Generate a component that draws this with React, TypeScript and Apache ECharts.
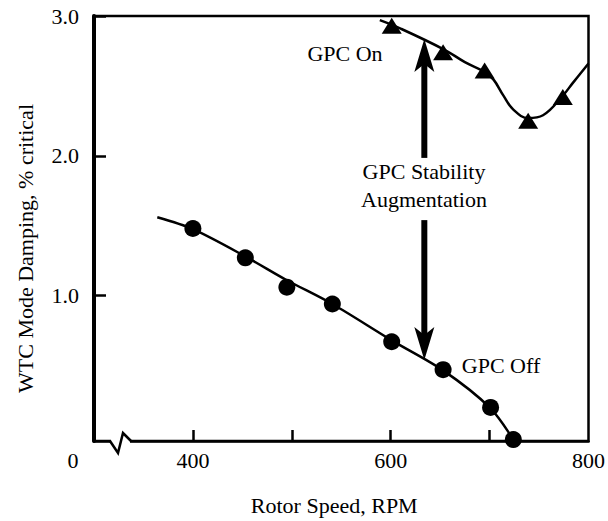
import React, { useEffect, useRef } from 'react';
import * as echarts from 'echarts';

// Axis ticks / labels
const xTickValues = [400, 500, 600, 700];
const xLabelValues = [400, 600, 800];
const yTickValues = [1, 2, 3];
const yLabelValues = [1, 2, 3];

// GPC Off measured points (circles)
const offRpm = [400, 453, 495, 541, 601, 653, 701, 724];
const offDamping = [1.48, 1.27, 1.06, 0.94, 0.67, 0.47, 0.2, -0.03];

// GPC Off faired curve
const offFitRpm = [364, 400, 453, 495, 541, 601, 653, 700, 724];
const offFitDamping = [1.56, 1.475, 1.28, 1.11, 0.94, 0.68, 0.465, 0.2, -0.03];

// GPC On measured points (triangles)
const onRpm = [601, 653, 695, 739, 774];
const onDamping = [2.93, 2.74, 2.61, 2.25, 2.42];

// GPC On faired curve
const onFitRpm = [589, 610, 654, 675, 695, 704, 714, 724, 739, 754, 774, 784, 800];
const onFitDamping = [2.97, 2.91, 2.76, 2.67, 2.6, 2.545, 2.43, 2.33, 2.27, 2.29, 2.43, 2.52, 2.66];

// Stability augmentation arrow (rpm, [shaft start, arrow tip])
const arrowRpm = 634;
const arrowSegments = [
  [1.985, 2.835],
  [1.54, 0.54],
];

const FONT = "'Liberation Serif', 'Times New Roman', serif";

export default function App() {
  const ref = useRef<HTMLDivElement>(null);

  useEffect(() => {
    const chart = echarts.init(ref.current as HTMLDivElement, null, { renderer: 'svg' });
    const txt = (text: string, x: number, y: number, extra: any = {}) => ({
      type: 'text',
      z: 100,
      x,
      y,
      silent: true,
      style: {
        text,
        fontSize: 22,
        fontFamily: FONT,
        fill: '#000',
        align: 'center',
        verticalAlign: 'middle',
        ...extra,
      },
    });

    chart.setOption({
      animation: false,
      backgroundColor: '#fff',
      textStyle: { fontFamily: FONT },
      grid: {
        left: 94,
        right: 16,
        top: 16,
        bottom: 80,
        show: true,
        borderColor: '#000',
        borderWidth: 2.5,
        backgroundColor: 'transparent',
      },
      xAxis: {
        type: 'value',
        min: 300,
        max: 800,
        name: 'Rotor Speed, RPM',
        nameLocation: 'middle',
        nameGap: 53,
        nameTextStyle: { fontSize: 22, color: '#000', fontFamily: FONT, padding: [0, 14, 0, 0] },
        axisLine: { show: true, onZero: false, lineStyle: { color: '#000', width: 2.5 } },
        axisTick: {
          show: true,
          inside: true,
          length: 11,
          customValues: xTickValues,
          lineStyle: { color: '#000', width: 2.5 },
        },
        axisLabel: {
          show: true,
          margin: 8,
          fontSize: 22,
          color: '#000',
          fontFamily: FONT,
          customValues: xLabelValues,
          formatter: (v: number) => String(v),
        },
        splitLine: { show: false },
      },
      yAxis: {
        type: 'value',
        min: -0.04,
        max: 3,
        name: 'WTC Mode Damping, % critical',
        nameLocation: 'middle',
        nameGap: 58,
        nameRotate: 90,
        nameTextStyle: { fontSize: 22, color: '#000', fontFamily: FONT, padding: [0, 40, 0, 0] },
        axisLine: { show: true, onZero: false, lineStyle: { color: '#000', width: 4 } },
        axisTick: {
          show: true,
          inside: true,
          length: 12,
          customValues: yTickValues,
          lineStyle: { color: '#000', width: 2.5 },
        },
        axisLabel: {
          show: true,
          margin: 15,
          fontSize: 22,
          color: '#000',
          fontFamily: FONT,
          customValues: yLabelValues,
          formatter: (v: number) => v.toFixed(1),
        },
        splitLine: { show: false },
      },
      series: [
        {
          type: 'line',
          data: offFitRpm.map((r, i) => [r, offFitDamping[i]]),
          smooth: 0.3,
          symbol: 'none',
          silent: true,
          lineStyle: { color: '#000', width: 2.5 },
          z: 2,
        },
        {
          type: 'line',
          data: onFitRpm.map((r, i) => [r, onFitDamping[i]]),
          smooth: 0.4,
          symbol: 'none',
          silent: true,
          lineStyle: { color: '#000', width: 2.5 },
          z: 2,
        },
        {
          type: 'scatter',
          data: offRpm.map((r, i) => [r, offDamping[i]]),
          symbol: 'circle',
          symbolSize: 17,
          silent: true,
          itemStyle: { color: '#000', opacity: 1, borderWidth: 0 },
          z: 3,
        },
        {
          type: 'scatter',
          data: onRpm.map((r, i) => [r, onDamping[i]]),
          symbol: 'triangle',
          symbolSize: [20, 16],
          silent: true,
          itemStyle: { color: '#000', opacity: 1, borderWidth: 0 },
          z: 3,
        },
      ],
    });

    // Arrow drawn from data coordinates converted through the axes
    const arrowGraphics: any[] = [];
    arrowSegments.forEach(([from, to]) => {
      const p0 = chart.convertToPixel({ gridIndex: 0 }, [arrowRpm, from]) as number[];
      const p1 = chart.convertToPixel({ gridIndex: 0 }, [arrowRpm, to]) as number[];
      const dir = p1[1] < p0[1] ? -1 : 1; // screen direction of the tip
      const headLen = 33;
      const headHalf = 10;
      const notch = 25;
      const x = p1[0];
      const tipY = p1[1];
      arrowGraphics.push({
        type: 'line',
        z: 90,
        silent: true,
        shape: { x1: p0[0], y1: p0[1], x2: x, y2: tipY - dir * (notch - 2) },
        style: { stroke: '#000', lineWidth: 6 },
      });
      arrowGraphics.push({
        type: 'polygon',
        z: 91,
        silent: true,
        shape: {
          points: [
            [x, tipY],
            [x + headHalf, tipY - dir * headLen],
            [x, tipY - dir * notch],
            [x - headHalf, tipY - dir * headLen],
          ],
        },
        style: { fill: '#000' },
      });
    });

    chart.setOption({
      graphic: [
        { type: 'rect', z: 100, silent: true, shape: { x: 111, y: 438, width: 19, height: 6 }, style: { fill: '#fff' } },
        {
          type: 'polyline',
          z: 101,
          silent: true,
          shape: { points: [[110, 441], [118, 453], [123, 433], [131, 441]] },
          style: { stroke: '#000', lineWidth: 2.5, fill: null },
        },
        ...arrowGraphics,
        txt('0', 73, 460),
        txt('GPC On', 345, 53),
        txt('GPC Stability\nAugmentation', 424, 185, { lineHeight: 28 }),
        txt('GPC Off', 501, 365),
      ],
    });

    return () => chart.dispose();
  }, []);

  return (
    <div
      ref={ref}
      style={{ position: 'fixed', left: 0, top: 0, width: 608, height: 521, background: '#fff' }}
    />
  );
}
